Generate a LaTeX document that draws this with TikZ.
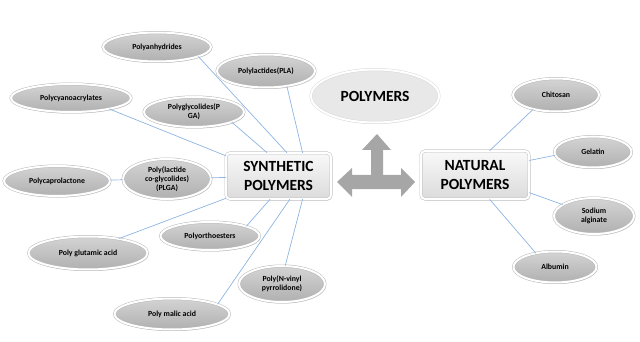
\documentclass[tikz,border=0pt]{standalone}
\usepackage{fontspec}
\setmainfont{Carlito}
\usetikzlibrary{shapes.geometric, shadows}
\definecolor{linkblue}{RGB}{141,180,226}
\definecolor{arrowgray}{RGB}{166,166,166}

\begin{document}
\begin{tikzpicture}[x=1pt, y=-1pt,
        item/.style={ellipse, inner sep=0pt, align=center, font=\bfseries\fontsize{7.8}{9}\selectfont,
            top color=gray!34, bottom color=gray!62, draw=gray!55, double=white, double distance=2pt,
            line width=0.5pt, drop shadow={opacity=0.35, shadow xshift=1pt, shadow yshift=-1.5pt}},
        group/.style={rectangle, rounded corners=4pt, minimum width=105pt, minimum height=46pt, align=center,
            font=\bfseries\fontsize{15.5}{18.5}\selectfont, top color=gray!5, bottom color=gray!28, draw=gray!50,
            double=white, double distance=2pt, line width=0.5pt,
            drop shadow={opacity=0.3, shadow xshift=1pt, shadow yshift=-1.5pt}},
        link/.style={linkblue, line width=0.7pt}]
                \useasboundingbox (0,0) rectangle (640,342);
                \node[ellipse, minimum width=128pt, minimum height=53pt, fill=gray!18, draw=gray!30, double=white,
                    double distance=2pt, line width=0.5pt, font=\bfseries\fontsize{15.5}{18}\selectfont,
                    drop shadow={opacity=0.2, shadow xshift=1pt, shadow yshift=-1.5pt}] (poly) at (375,96) {POLYMERS};
                \fill[arrowgray] (337,182) -- (352,168) -- (352,175) -- (371,175) -- (371,150) -- (362,150)
                    -- (377,134) -- (391,150) -- (383,150) -- (383,175) -- (401,175) -- (401,168) -- (415,182)
                    -- (401,197) -- (401,189) -- (352,189) -- (352,197) -- cycle;
                \node[group] (syn) at (278.5,176) {SYNTHETIC\\POLYMERS};
                \node[group, minimum width=108pt, minimum height=48pt] (nat) at (475,175) {NATURAL\\POLYMERS};
                \node[item, minimum width=108pt, minimum height=29pt] (anhy) at (157,47) {Polyanhydrides};
                \node[item, minimum width=98pt, minimum height=33pt] (pla) at (266,71) {Polylactides(PLA)};
                \node[item, minimum width=120pt, minimum height=28pt] (cyano) at (71,98) {Polycyanoacrylates};
                \node[item, minimum width=100pt, minimum height=30pt] (pga) at (194,112) {Polyglycolides(P\\GA)};
                \node[item, minimum width=106pt, minimum height=30pt] (pcl) at (57,181) {Polycaprolactone};
                \node[item, minimum width=88pt, minimum height=40pt] (plga) at (167,179) {Poly(lactide\\co-glycolides)\\(PLGA)};
                \node[item, minimum width=119pt, minimum height=33pt] (glut) at (88,253) {Poly glutamic acid};
                \node[item, minimum width=99pt, minimum height=28pt] (ortho) at (210,236) {Polyorthoesters};
                \node[item, minimum width=86pt, minimum height=36pt] (pvp) at (282,284) {Poly(N-vinyl\\pyrrolidone)};
                \node[item, minimum width=115pt, minimum height=31pt] (malic) at (172,314) {Poly malic acid};
                \node[item, minimum width=86pt, minimum height=33pt] (chit) at (556,95) {Chitosan};
                \node[item, minimum width=77pt, minimum height=31pt] (gel) at (593,152) {Gelatin};
                \node[item, minimum width=80pt, minimum height=36pt] (alg) at (594,216) {Sodium\\alginate};
                \node[item, minimum width=83pt, minimum height=31pt] (alb) at (555,267) {Albumin};
                \draw[link] (anhy.-13) -- (syn.70);
                \draw[link] (pla.-36) -- (syn.44);
                \draw[link] (cyano.-16) -- (syn.159);
                \draw[link] (pga.-15) -- (syn.116);
                \draw[link] (pcl) -- (plga);
                \draw[link] (plga) -- (syn);
                \draw[link] (glut.25) -- (syn.203);
                \draw[link] (ortho.15) -- (syn.250);
                \draw[link] (malic.12) -- (syn.296);
                \draw[link] (pvp.80) -- (syn.316);
                \draw[link] (chit.212) -- (nat.59);
                \draw[link] (gel.185) -- (nat.15);
                \draw[link] (alg.160) -- (nat.342);
                \draw[link] (alb.144) -- (nat.301);
            \end{tikzpicture}
\end{document}
